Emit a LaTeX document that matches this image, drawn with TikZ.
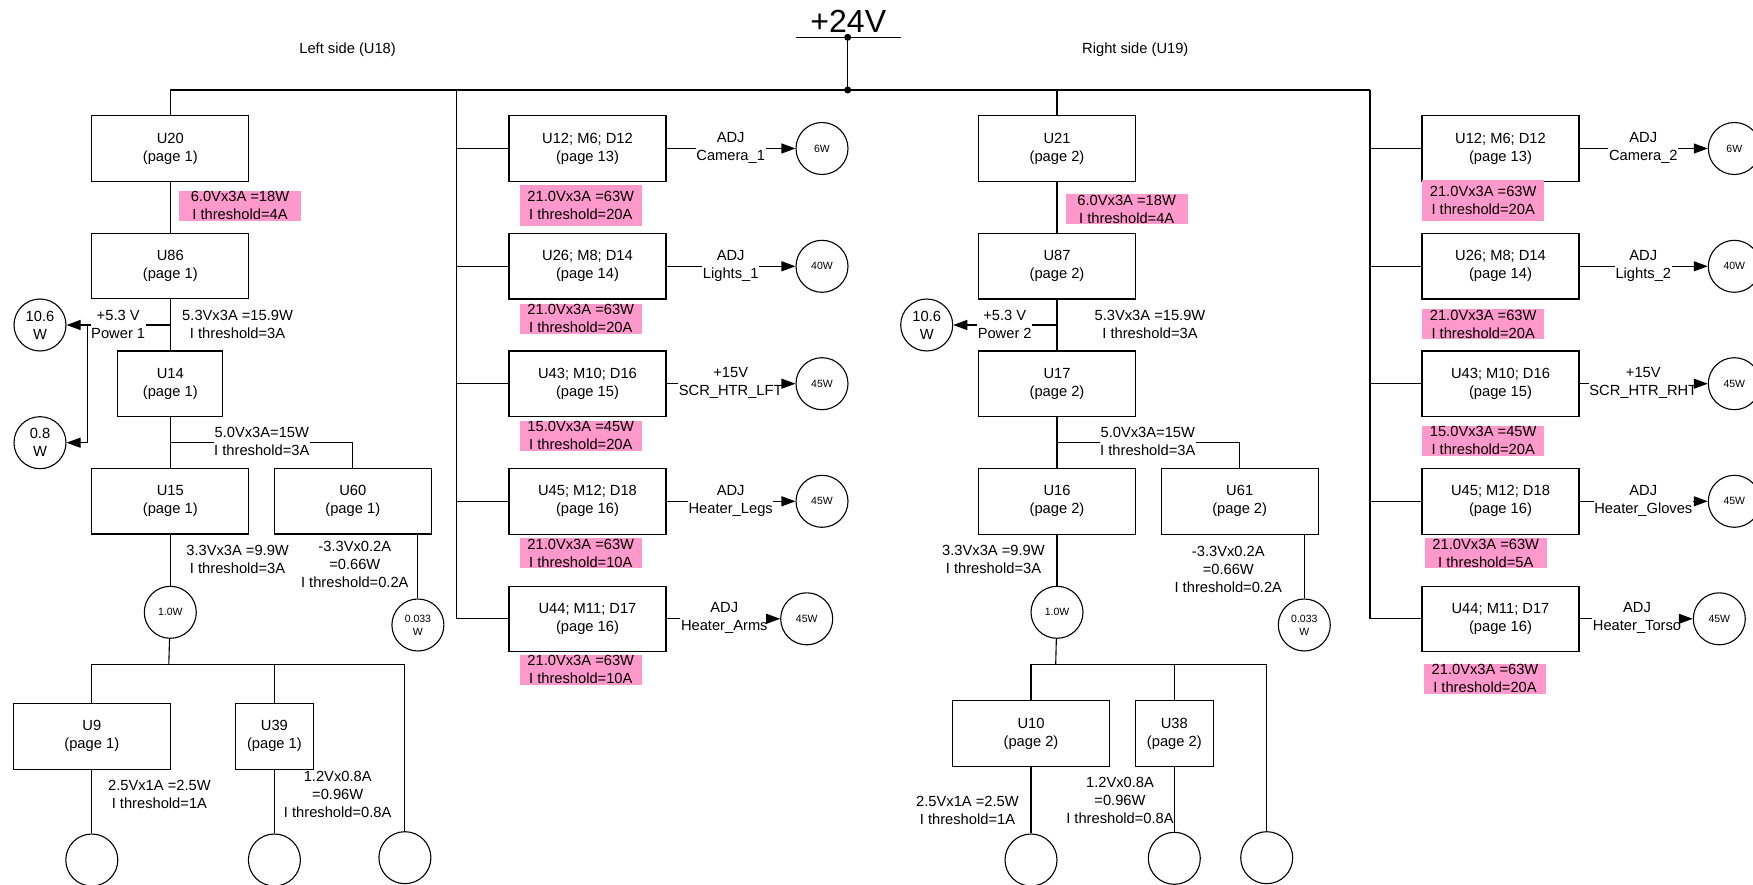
\documentclass[tikz,border=0pt]{standalone}
\usepackage{fontspec}
\setmainfont{Liberation Sans}
\usetikzlibrary{arrows.meta}
\newcommand\mainfnt{\fontsize{14.7}{18}\selectfont}
\newcommand\smallfnt{\fontsize{10.5}{12.7}\selectfont}
\newcommand\bigfnt{\fontsize{32}{36}\selectfont}
\definecolor{pinkc}{RGB}{255,153,204}
\tikzset{
  ln/.style={line width=1.1pt, draw=black},
  arr/.style={-{Triangle[length=14pt,width=10pt]}},
  box/.style={draw=black, line width=1.1pt, rectangle, minimum width=157pt, minimum height=65.5pt, align=center, inner sep=0pt, font=\mainfnt},
  pinkbox/.style={fill=pinkc, inner sep=0pt, minimum width=122pt, minimum height=30pt, align=center, font=\mainfnt},
  lbl/.style={align=center, inner sep=0.5pt, font=\mainfnt},
  wlbl/.style={lbl, fill=white},
  load/.style={draw=black, line width=1.1pt, circle, minimum size=52pt, inner sep=0pt, align=center, font=\mainfnt},
  sload/.style={load, font=\smallfnt},
}
\begin{document}
\begin{tikzpicture}[x=1pt,y=-1pt]
\fill[white] (0,0) rectangle (1753,885);
\useasboundingbox (0,0) rectangle (1753,885);

% ---- top supply ----
\node[anchor=base, font=\bigfnt, inner sep=0pt] (v24) at (848.3,32.3) {+24V};
\coordinate (ulL) at (795.7,37.3);
\coordinate (ulR) at (900.7,37.3);
\coordinate (tdot) at (847.7,37.3);
\coordinate (bdot) at (847.7,90);
\coordinate (c2top) at (456.7,90);
\coordinate (c4top) at (1370,90);
\draw[ln] (ulL) -- (ulR);
\draw[ln] (tdot) -- (bdot);
\fill (tdot) circle[radius=3.5pt];
\fill (bdot) circle[radius=3.5pt];

\node[lbl] (tL) at (347.6,50) {Left side (U18)};
\node[lbl] (tR) at (1135.3,50) {Right side (U19)};

% ---- left chain boxes ----
\node[box] (u20) at (170.3,148.6) {U20\\(page 1)};
\node[box] (u86) at (170.3,266.2) {U86\\(page 1)};
\node[box, minimum width=104.8pt] (u14) at (170.3,383.7) {U14\\(page 1)};
\node[box] (u15) at (170.3,501.2) {U15\\(page 1)};
\node[box] (u60) at (352.8,501.2) {U60\\(page 1)};
\node[box] (u9) at (91.8,736.3) {U9\\(page 1)};
\node[box, minimum width=78.5pt] (u39) at (274.4,736.3) {U39\\(page 1)};

\node[load] (c106L) at (40,325) {10.6\\W};
\node[load] (c08L) at (40,442.7) {0.8\\W};
\node[sload] (c10L) at (170.3,612.3) {1.0W};
\node[sload] (c033L) at (417.9,625) {0.033\\W};
\node[load] (cU9) at (91.8,860) {};
\node[load] (cU39) at (274.4,860) {};
\node[load] (cXL) at (404.9,857.7) {};

% ---- column 2 ----
\node[box] (L1) at (587.5,148.5) {U12; M6; D12\\(page 13)};
\node[box] (L2) at (587.5,266.3) {U26; M8; D14\\(page 14)};
\node[box] (L3) at (587.5,383.7) {U43; M10; D16\\(page 15)};
\node[box] (L4) at (587.5,501.3) {U45; M12; D18\\(page 16)};
\node[box] (L5) at (587.5,618.8) {U44; M11; D17\\(page 16)};
\node[sload] (cL1) at (822,148.5) {6W};
\node[sload] (cL2) at (822,266.3) {40W};
\node[sload] (cL3) at (822,383.7) {45W};
\node[sload] (cL4) at (822,501.3) {45W};
\node[sload] (cL5) at (806.7,618.8) {45W};

% ---- right chain ----
\node[box] (u21) at (1057,148.6) {U21\\(page 2)};
\node[box] (u87) at (1057,266.3) {U87\\(page 2)};
\node[box] (u17) at (1057,383.7) {U17\\(page 2)};
\node[box] (u16) at (1057,501.3) {U16\\(page 2)};
\node[box] (u61) at (1239.7,501.3) {U61\\(page 2)};
\node[box] (u10) at (1031,733.5) {U10\\(page 2)};
\node[box, minimum width=78.3pt] (u38) at (1174.3,733.5) {U38\\(page 2)};

\node[load] (c106R) at (926.7,325) {10.6\\W};
\node[sload] (c10R) at (1057,612.3) {1.0W};
\node[sload] (c033R) at (1304.3,625) {0.033\\W};
\node[load] (cU10) at (1031,860) {};
\node[load] (cU38) at (1174.3,858.3) {};
\node[load] (cYR) at (1266.7,857.7) {};

% ---- column 4 ----
\node[box] (R1) at (1500.5,148.5) {U12; M6; D12\\(page 13)};
\node[box] (R2) at (1500.5,266.3) {U26; M8; D14\\(page 14)};
\node[box] (R3) at (1500.5,383.7) {U43; M10; D16\\(page 15)};
\node[box] (R4) at (1500.5,501.3) {U45; M12; D18\\(page 16)};
\node[box] (R5) at (1500.5,618.8) {U44; M11; D17\\(page 16)};
\node[sload] (cR1) at (1734.3,148.5) {6W};
\node[sload] (cR2) at (1734.3,266.3) {40W};
\node[sload] (cR3) at (1734.3,383.7) {45W};
\node[sload] (cR4) at (1734.3,501.3) {45W};
\node[sload] (cR5) at (1719.3,618.8) {45W};

% ---- arrow labels (white) ----
\node[wlbl] (aL1) at (730.7,148.2) {ADJ\\Camera\_1};
\node[wlbl] (aL2) at (730.7,266) {ADJ\\Lights\_1};
\node[wlbl] (aL3) at (730.7,383.2) {+15V\\SCR\_HTR\_LFT};
\node[wlbl] (aL4) at (730.7,500.8) {ADJ\\Heater\_Legs};
\node[wlbl] (aL5) at (724.3,618.2) {ADJ\\Heater\_Arms};
\node[wlbl] (aR1) at (1643.3,148.2) {ADJ\\Camera\_2};
\node[wlbl] (aR2) at (1643.3,266) {ADJ\\Lights\_2};
\node[wlbl] (aR3) at (1643.3,383.2) {+15V\\SCR\_HTR\_RHT};
\node[wlbl] (aR4) at (1643.3,500.8) {ADJ\\Heater\_Gloves};
\node[wlbl] (aR5) at (1637,618.2) {ADJ\\Heater\_Torso};
\node[wlbl] (pw1) at (118.2,324.2) {+5.3 V\\Power 1};
\node[wlbl] (pw2) at (1004.7,324.2) {+5.3 V\\Power 2};

% ---- connectors ----
\draw[ln] (u20.north) |- (c4top);
\draw[ln] (c2top) |- (L5.west);
\foreach \n in {L1,L2,L3,L4} { \draw[ln] (\n.west) -- (\n.west -| c2top); }
\draw[ln] (c4top) |- (R5.west);
\foreach \n in {R1,R2,R3,R4} { \draw[ln] (\n.west) -- (\n.west -| c4top); }
\draw[ln] (u21.north) -- (u21.north |- c4top);

\foreach \b/\a/\c in {L1/aL1/cL1,L2/aL2/cL2,L3/aL3/cL3,L4/aL4/cL4,L5/aL5/cL5,R1/aR1/cR1,R2/aR2/cR2,R3/aR3/cR3,R4/aR4/cR4,R5/aR5/cR5} {
  \draw[ln] (\b.east) -- (\a.west |- \b.east);
  \draw[ln,arr] (\a.east |- \b.east) -- (\c);
}

% left chain
\draw[ln] (u20.south) -- (u86.north);
\draw[ln] (u86.south) -- (u14.north);
\coordinate (jL) at (170.3,325);
\coordinate (pL) at (87.3,325);
\draw[ln] (jL) -- (pw1.east |- jL);
\draw[ln] (pw1.west |- jL) -- (pL);
\draw[ln,arr] (pL) -- (c106L);
\draw[ln,arr] (pL) |- (c08L);
\draw[ln] (u14.south) -- (u15.north);
\coordinate (jL2) at (170.3,442.7);
\draw[ln] (jL2) -| (u60.north);
\draw[ln] (u15.south) -- (c10L);
\draw[ln] (u60.south -| c033L) -- (c033L);
\coordinate (sbL0) at (168.8,664.3);
\coordinate (sbL1) at (91.8,664.3);
\coordinate (sbL3) at (404.9,664.3);
\draw[ln] (c10L) -- (sbL0);
\draw[ln] (u9.north) -- (sbL1) -- (sbL3) -- (cXL);
\draw[ln] (u39.north) -- (u39.north |- sbL1);
\draw[ln] (u9.south) -- (cU9);
\draw[ln] (u39.south) -- (cU39);

% right chain
\draw[ln] (u21.south) -- (u87.north);
\draw[ln] (u87.south) -- (u17.north);
\coordinate (jR) at (1057,325);
\draw[ln] (jR) -- (pw2.east |- jR);
\draw[ln,arr] (pw2.west |- jR) -- (c106R);
\draw[ln] (u17.south) -- (u16.north);
\coordinate (jR2) at (1057,442.7);
\draw[ln] (jR2) -| (u61.north);
\draw[ln] (u16.south) -- (c10R);
\draw[ln] (u61.south -| c033R) -- (c033R);
\coordinate (sbR0) at (1055.7,664.3);
\coordinate (sbR1) at (1031,664.3);
\coordinate (sbR3) at (1266.7,664.3);
\draw[ln] (c10R) -- (sbR0);
\draw[ln] (u10.north) -- (sbR1) -- (sbR3) -- (cYR);
\draw[ln] (u38.north) -- (u38.north |- sbR1);
\draw[ln] (u10.south) -- (cU10);
\draw[ln] (u38.south) -- (cU38);

% ---- pink labels ----
\node[pinkbox] (pA) at (240,205.8) {6.0Vx3A =18W\\I threshold=4A};
\node[pinkbox] (pB) at (1126.7,209) {6.0Vx3A =18W\\I threshold=4A};
\node[pinkbox, minimum height=41pt] (P1) at (580.8,205.5) {21.0Vx3A =63W\\I threshold=20A};
\node[pinkbox] (P2) at (580.8,318.5) {21.0Vx3A =63W\\I threshold=20A};
\node[pinkbox] (P3) at (580.8,435.5) {15.0Vx3A =45W\\I threshold=20A};
\node[pinkbox] (P4) at (580.8,553.3) {21.0Vx3A =63W\\I threshold=10A};
\node[pinkbox] (P5) at (580.8,669.5) {21.0Vx3A =63W\\I threshold=10A};
\node[pinkbox, minimum height=40.7pt] (RP1) at (1483.2,200.3) {21.0Vx3A =63W\\I threshold=20A};
\node[pinkbox] (RP2) at (1483.2,324.4) {21.0Vx3A =63W\\I threshold=20A};
\node[pinkbox] (RP3) at (1483.2,440.7) {15.0Vx3A =45W\\I threshold=20A};
\node[pinkbox] (RP4) at (1485.8,553.4) {21.0Vx3A =63W\\I threshold=5A};
\node[pinkbox] (RP5) at (1485,678.5) {21.0Vx3A =63W\\I threshold=20A};

% ---- other labels ----
\node[lbl] (l53L) at (237.6,324.2) {5.3Vx3A =15.9W\\I threshold=3A};
\node[wlbl] (l50L) at (261.8,441.8) {5.0Vx3A=15W\\I threshold=3A};
\node[lbl] (l33L) at (237.6,559) {3.3Vx3A =9.9W\\I threshold=3A};
\node[lbl] (lm33L) at (354.8,564.3) {-3.3Vx0.2A\\=0.66W\\I threshold=0.2A};
\node[lbl] (l25L) at (159.4,794.3) {2.5Vx1A =2.5W\\I threshold=1A};
\node[lbl] (l12L) at (337.7,794.5) {1.2Vx0.8A\\=0.96W\\I threshold=0.8A};

\node[lbl] (l53R) at (1150,324.2) {5.3Vx3A =15.9W\\I threshold=3A};
\node[wlbl] (l50R) at (1147.8,441.8) {5.0Vx3A=15W\\I threshold=3A};
\node[lbl] (l33R) at (993.5,559) {3.3Vx3A =9.9W\\I threshold=3A};
\node[lbl] (lm33R) at (1228.3,569.5) {-3.3Vx0.2A\\=0.66W\\I threshold=0.2A};
\node[lbl] (l25R) at (967.5,810.3) {2.5Vx1A =2.5W\\I threshold=1A};
\node[lbl] (l12R) at (1120,800) {1.2Vx0.8A\\=0.96W\\I threshold=0.8A};
\end{tikzpicture}
\end{document}
